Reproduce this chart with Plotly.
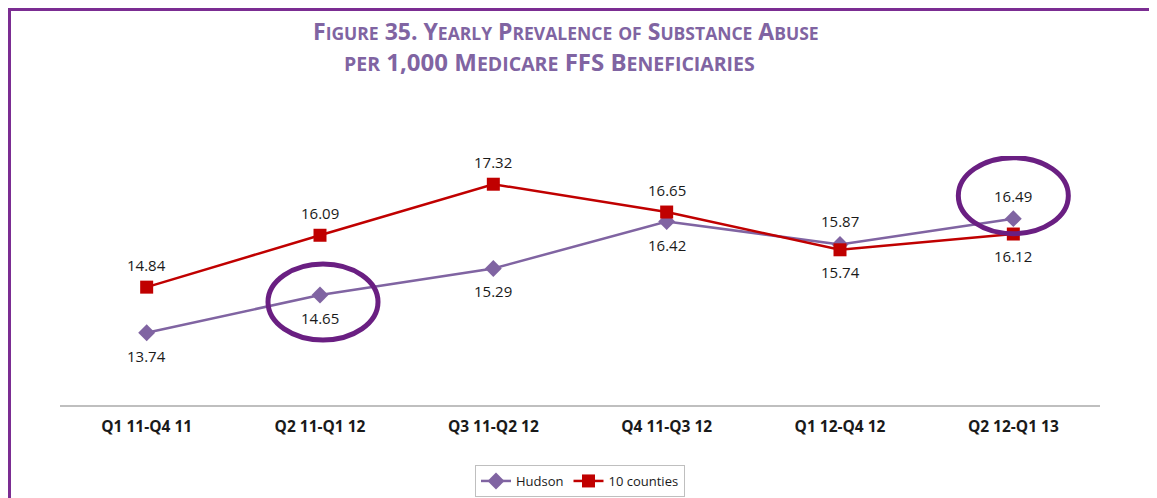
import plotly.graph_objects as go

categories = ["Q1 11-Q4 11", "Q2 11-Q1 12", "Q3 11-Q2 12", "Q4 11-Q3 12", "Q1 12-Q4 12", "Q2 12-Q1 13"]
hudson = [13.74, 14.65, 15.29, 16.42, 15.87, 16.49]
counties = [14.84, 16.09, 17.32, 16.65, 15.74, 16.12]
hudson_label_side = [-1, -1, -1, -1, 1, 1]   # 1 = above, -1 = below
counties_label_side = [1, 1, 1, 1, -1, -1]
highlight_idx = [1, 5]

PURPLE = "#8064A2"
RED = "#C00000"
FONT = "Open Sans"

x = list(range(len(categories)))

fig = go.Figure()
fig.add_trace(go.Scatter(
    x=x, y=hudson, name="Hudson", mode="lines+markers",
    line=dict(color=PURPLE, width=2.5),
    marker=dict(symbol="diamond", size=13, color=PURPLE),
))
fig.add_trace(go.Scatter(
    x=x, y=counties, name="10 counties", mode="lines+markers",
    line=dict(color=RED, width=2.5),
    marker=dict(symbol="square", size=13, color=RED),
))

annotations = []
for i, (v, s) in enumerate(zip(hudson, hudson_label_side)):
    annotations.append(dict(x=i, y=v, xref="x", yref="y", text=f"{v:.2f}", showarrow=False,
                            yshift=23 * s, font=dict(family=FONT, size=15, color="#1a1a1a")))
for i, (v, s) in enumerate(zip(counties, counties_label_side)):
    annotations.append(dict(x=i, y=v, xref="x", yref="y", text=f"{v:.2f}", showarrow=False,
                            yshift=22 * s, font=dict(family=FONT, size=15, color="#1a1a1a")))


def smallcaps(text, small=17.5):
    out = []
    for word in text.split(" "):
        if word.isupper() or (word and word[0].isdigit()):
            out.append(word)
        elif word and word[0].isupper():
            out.append(word[0] + f"<span style='font-size:{small}px'>{word[1:].upper()}</span>")
        else:
            out.append(f"<span style='font-size:{small}px'>{word.upper()}</span>")
    return "<b>" + " ".join(out) + "</b>"


title1 = smallcaps("Figure 35. Yearly Prevalence of Substance Abuse", small=17.5)
title2 = smallcaps("per 1,000 Medicare FFS Beneficiaries", small=19.5)

# the page adds an 8px body margin; work in page pixels and convert
OFF = 8
W, H = 1157 - OFF, 498 - OFF
L, R, T, B = 60 - OFF, 1157 - 1100, 156 - OFF, 498 - 405
pw, ph = W - L - R, H - T - B


def px_x(p):
    return (p - OFF - L) / pw


def px_y(p):
    return (H - B - (p - OFF)) / ph


annotations.append(dict(x=px_x(566), y=px_y(31), xref="paper", yref="paper", text=title1,
                        xanchor="center", yanchor="middle",
                        showarrow=False, font=dict(family=FONT, size=23, color=PURPLE)))
annotations.append(dict(x=px_x(549), y=px_y(62), xref="paper", yref="paper", text=title2,
                        xanchor="center", yanchor="middle",
                        showarrow=False, font=dict(family=FONT, size=24, color=PURPLE)))

shapes = [
    dict(type="rect", xref="paper", yref="paper", x0=px_x(9.5), x1=px_x(1155), y0=px_y(9.5), y1=px_y(560),
         line=dict(color="#7B2D92", width=3), layer="below"),
]
ell = {1: (3, -7, 110, 76), 5: (0, 23, 110, 76)}
for i in highlight_idx:
    dx, dy, w, h = ell[i]
    shapes.append(dict(type="circle", xref="x", yref="y", xsizemode="pixel", ysizemode="pixel",
                       xanchor=i, yanchor=hudson[i], x0=dx - w / 2, x1=dx + w / 2,
                       y0=dy - h / 2, y1=dy + h / 2, line=dict(color="#6A1F82", width=5)))

fig.update_layout(
    width=W, height=H,
    margin=dict(l=L, r=R, t=T, b=B, pad=0, autoexpand=False),
    paper_bgcolor="white", plot_bgcolor="white",
    showlegend=True,
    legend=dict(orientation="h", x=px_x(580), xanchor="center", y=px_y(465), yanchor="top",
                bordercolor="#BFBFBF", borderwidth=1, font=dict(family=FONT, size=13, color="#1a1a1a"),
                itemwidth=30, tracegroupgap=0),
    xaxis=dict(range=[-0.5, 5.5], tickvals=x, ticktext=categories, showgrid=False, zeroline=False,
               showline=True, linecolor="#BFBFBF", linewidth=1.5, ticks="",
               tickfont=dict(family=FONT, size=15.5, color="#1a1a1a", weight="bold"), ticklabelstandoff=7),
    yaxis=dict(range=[12, 18], visible=False, showgrid=False, zeroline=False),
    annotations=annotations, shapes=shapes,
)

fig.write_html("out.html")
